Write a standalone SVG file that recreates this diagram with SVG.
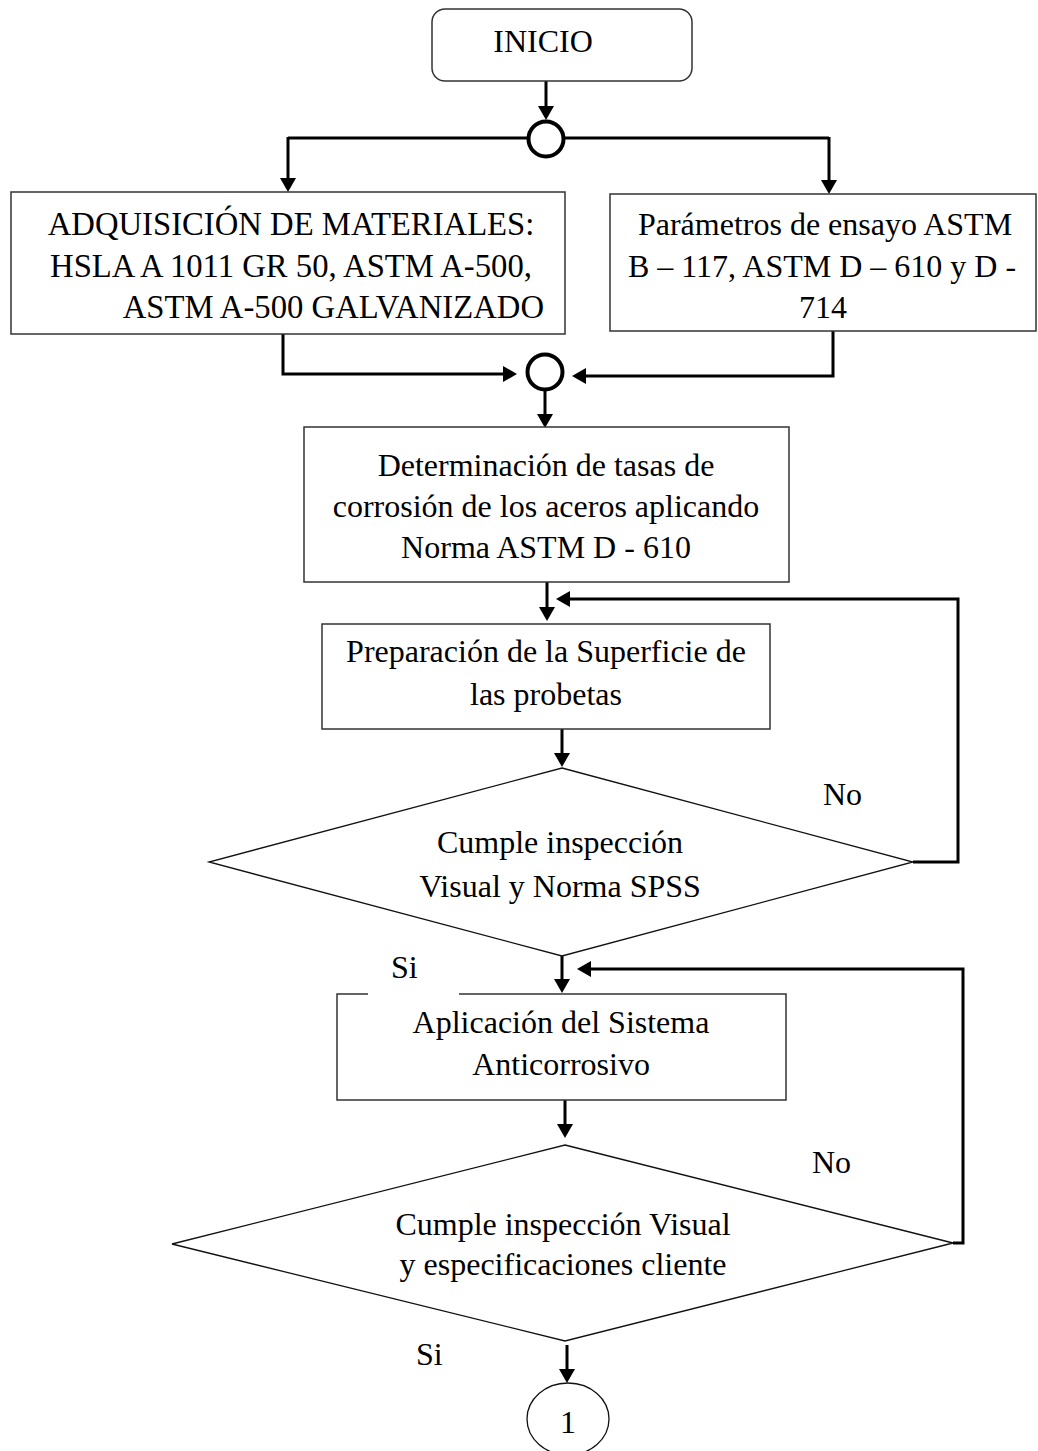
<svg xmlns="http://www.w3.org/2000/svg" width="1038" height="1451" viewBox="0 0 1038 1451">
<style>
  text { font-family: "Liberation Serif", "Times New Roman", serif; font-size: 32px; fill: #000; }
  .c { text-anchor: middle; }
  .big { font-size: 32.7px; }
  .box { fill: #fff; stroke: #333; stroke-width: 1.5; }
  .dia { fill: #fff; stroke: #111; stroke-width: 1.3; }
  .conn { fill: none; stroke: #000; stroke-width: 3; }
  .junc { fill: #fff; stroke: #000; stroke-width: 4; }
</style>
<defs>
  <marker id="arr" viewBox="0 0 14 16" refX="6" refY="8" markerWidth="14" markerHeight="16" markerUnits="userSpaceOnUse" orient="auto">
    <path d="M0,0 L14,8 L0,16 z" fill="#000"/>
  </marker>
</defs>
<rect width="1038" height="1451" fill="#fff"/>

<g id="connectors">
  <line class="conn" x1="546" y1="81" x2="546" y2="112" marker-end="url(#arr)"/>
  <line class="conn" x1="288" y1="138" x2="829" y2="138"/>
  <line class="conn" x1="288" y1="137" x2="288" y2="184" marker-end="url(#arr)"/>
  <line class="conn" x1="829" y1="137" x2="829" y2="186" marker-end="url(#arr)"/>
  <path class="conn" d="M283,334 V374 H509" marker-end="url(#arr)"/>
  <path class="conn" d="M833,331 V376 H580" marker-end="url(#arr)"/>
  <line class="conn" x1="545" y1="390" x2="545" y2="420" marker-end="url(#arr)"/>
  <line class="conn" x1="547" y1="582" x2="547" y2="613" marker-end="url(#arr)"/>
  <line class="conn" x1="562" y1="729" x2="562" y2="759" marker-end="url(#arr)"/>
  <line class="conn" x1="562" y1="956" x2="562" y2="985" marker-end="url(#arr)"/>
  <path class="conn" d="M913,862 H958 V599 H564" marker-end="url(#arr)"/>
  <line class="conn" x1="565" y1="1100" x2="565" y2="1130" marker-end="url(#arr)"/>
  <path class="conn" d="M953,1243 H963 V969 H585" marker-end="url(#arr)"/>
  <line class="conn" x1="567" y1="1345" x2="567" y2="1375" marker-end="url(#arr)"/>
</g>

<g id="inicio">
  <rect class="box" x="432" y="9" width="260" height="72" rx="13"/>
  <text class="c" x="543" y="52">INICIO</text>
</g>

<g id="junction1">
  <circle class="junc" cx="546" cy="139" r="17.5"/>
</g>

<g id="materiales">
  <rect class="box" x="11" y="192" width="554" height="142"/>
  <text class="c big" x="291" y="235">ADQUISICIÓN DE MATERIALES:</text>
  <text class="c big" x="291" y="277">HSLA A 1011 GR 50, ASTM A-500,</text>
  <text class="big" x="544" y="318" text-anchor="end">ASTM A-500 GALVANIZADO</text>
</g>

<g id="parametros">
  <rect class="box" x="610" y="194" width="426" height="137"/>
  <text class="c" x="825" y="235">Parámetros de ensayo ASTM</text>
  <text class="c" x="822" y="277">B – 117, ASTM D – 610 y D -</text>
  <text class="c" x="823" y="318">714</text>
</g>

<g id="junction2">
  <circle class="junc" cx="545" cy="372" r="17.5"/>
</g>

<g id="determinacion">
  <rect class="box" x="304" y="427" width="485" height="155"/>
  <text class="c" x="546" y="476">Determinación de tasas de</text>
  <text class="c" x="546" y="517">corrosión de los aceros aplicando</text>
  <text class="c" x="546" y="558">Norma ASTM D - 610</text>
</g>

<g id="preparacion">
  <rect class="box" x="322" y="624" width="448" height="105"/>
  <text class="c" x="546" y="662">Preparación de la Superficie de</text>
  <text class="c" x="546" y="705">las probetas</text>
</g>

<g id="decision1">
  <polygon class="dia" points="562,768 913,862 562,956 209,862"/>
  <text class="c" x="560" y="853">Cumple inspección</text>
  <text class="c" x="560" y="897">Visual y Norma SPSS</text>
</g>

<g id="aplicacion">
  <rect class="box" x="337" y="994" width="449" height="106"/>
  <text class="c" x="561" y="1033">Aplicación del Sistema</text>
  <text class="c" x="561" y="1075">Anticorrosivo</text>
</g>

<g id="decision2">
  <polygon class="dia" points="565,1145 953,1243 565,1341 172,1244"/>
  <text class="c" x="563" y="1235">Cumple inspección Visual</text>
  <text class="c" x="563" y="1275">y especificaciones cliente</text>
</g>

<g id="conector1">
  <ellipse cx="568" cy="1419" rx="41" ry="36" fill="#fff" stroke="#111" stroke-width="1.3"/>
  <text class="c" x="568" y="1433">1</text>
</g>

<g id="labels">
  <text x="823" y="805">No</text>
  <rect x="368" y="990" width="91" height="7" fill="#fff"/>
  <text x="391" y="978">Si</text>
  <text x="812" y="1173">No</text>
  <text x="416" y="1365">Si</text>
</g>
</svg>
